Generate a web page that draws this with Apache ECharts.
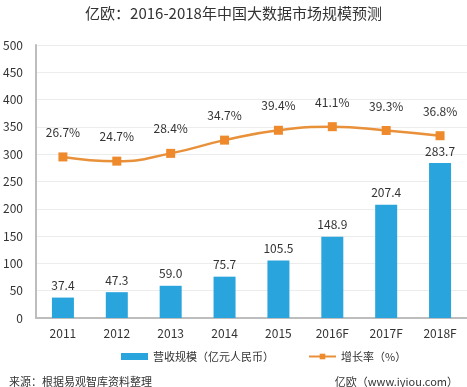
<!DOCTYPE html>
<html><head><meta charset="utf-8">
<script src="https://cdn.jsdelivr.net/npm/echarts@6/dist/echarts.min.js"></script>
<style>html,body{margin:0;padding:0;background:#fff}#c{width:467px;height:387px}</style>
</head><body><div id="c"></div>
<script>
var categories = ['2011','2012','2013','2014','2015','2016F','2017F','2018F'];
var revenue = [37.4, 47.3, 59.0, 75.7, 105.5, 148.9, 207.4, 283.7];
var growth = [26.7, 24.7, 28.4, 34.7, 39.4, 41.1, 39.3, 36.8];
var yTicks = [0, 50, 100, 150, 200, 250, 300, 350, 400, 450, 500];
var FONT = '"Noto Sans CJK SC", "Noto Sans", sans-serif';
var chart = echarts.init(document.getElementById('c'));
chart.setOption({
  backgroundColor: '#fff',
  textStyle: {fontFamily: FONT},
  title: [{
    text: '亿欧：2016-2018年中国大数据市场规模预测',
    left: 'center', top: 1,
    textStyle: {fontSize: 15, fontWeight: 'normal', color: '#333', fontFamily: FONT}
  }, {
    text: '来源：根据易观智库资料整理', left: 4, top: 371,
    textStyle: {fontSize: 11, fontWeight: 'normal', color: '#333', fontFamily: FONT}
  }, {
    text: '亿欧（www.iyiou.com）', right: 4, top: 371,
    textStyle: {fontSize: 11, fontWeight: 'normal', color: '#333', fontFamily: FONT}
  }],
  legend: {
    top: 346, left: 116, itemGap: 34, itemWidth: 27, itemHeight: 7,
    textStyle: {fontSize: 11, color: '#333', fontFamily: FONT},
    data: [{name: '营收规模（亿元人民币）', icon: 'rect'}, {name: '增长率（%）'}]
  },
  grid: {left: 32, right: 0, top: 45, bottom: 69, containLabel: false},
  xAxis: {
    type: 'category', data: categories,
    axisLine: {lineStyle: {color: '#bdbdbd', width: 2}},
    axisTick: {show: false},
    axisLabel: {fontSize: 12, color: '#333', margin: 9, fontFamily: FONT}
  },
  yAxis: [{
    type: 'value', min: yTicks[0], max: yTicks[yTicks.length - 1], interval: 50,
    axisLine: {show: true, lineStyle: {color: '#bdbdbd', width: 2}},
    axisTick: {show: false},
    axisLabel: {fontSize: 12, color: '#333', margin: 13, fontFamily: FONT},
    splitLine: {lineStyle: {color: '#ececec', width: 1}}
  }, {
    type: 'value', min: -50, max: 80, show: false, splitLine: {show: false}
  }],
  series: [{
    name: '营收规模（亿元人民币）', type: 'bar', data: revenue, barWidth: 22,
    itemStyle: {color: '#29a4dc'},
    label: {show: true, position: 'top', distance: 6, fontSize: 12, color: '#333', fontFamily: FONT,
      formatter: function (p) { return p.value.toFixed(1); }}
  }, {
    name: '增长率（%）', type: 'line', yAxisIndex: 1, data: growth, smooth: true,
    symbol: 'rect', symbolSize: 9,
    lineStyle: {color: '#e8913a', width: 2.5},
    itemStyle: {color: '#ee8a2c'},
    label: {show: true, position: 'top', distance: 14, fontSize: 12, color: '#333', fontFamily: FONT,
      formatter: function (p) { return p.value.toFixed(1) + '%'; }}
  }]
});
</script></body></html>
